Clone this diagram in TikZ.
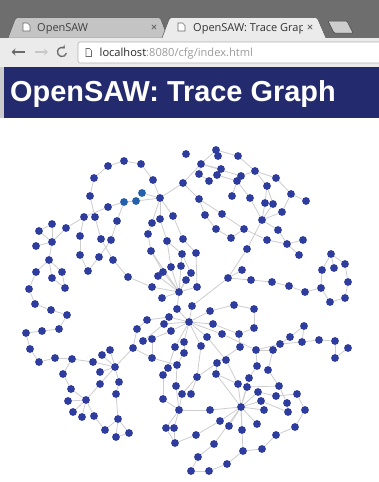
\documentclass[tikz,border=0pt]{standalone}
\usepackage{fontspec}
\setmainfont{Liberation Sans}
\newfontfamily\tabfont{Open Sans}
\usetikzlibrary{backgrounds,arrows.meta}
\definecolor{navy}{HTML}{232B6E}
\definecolor{vblue}{HTML}{2E3C9E}
\definecolor{vlight}{HTML}{2460AC}
\definecolor{egray}{HTML}{CDCDCD}
\definecolor{strip}{HTML}{6E6E6E}
\definecolor{tabgray}{HTML}{C4C4C4}
\definecolor{barcol}{HTML}{EBEBEB}
\definecolor{urlgray}{HTML}{9A9A9A}
\definecolor{icongray}{HTML}{6A6A6A}
\tikzset{
  vtx/.style={circle,fill=vblue,draw=none,inner sep=0pt,minimum size=7.8pt},
  vtxl/.style={vtx,fill=vlight},
  edge/.style={draw=egray,line width=0.8pt},
  pageicon/.style={draw=icongray,line width=0.6pt,fill=white},
  closex/.style={draw=icongray,line width=0.8pt}
}
\begin{document}
\begin{tikzpicture}[x=1pt,y=-1pt]
\useasboundingbox (0,0) rectangle (379,482);
\begin{pgfonlayer}{background}
\fill[white] (0,0) rectangle (379,482);
\end{pgfonlayer}
% ---------- browser chrome ----------
\fill[strip] (0,0) rectangle (379,38);
\filldraw[fill=tabgray,draw=strip!80!black,line width=0.5pt] (8,38) -- (15,19.5) -- (17,17.5) -- (159,17.5) -- (161,19.5) -- (168,38) -- cycle;
\fill[barcol] (0,37.5) rectangle (379,67);
\filldraw[fill=barcol,draw=strip!80!black,line width=0.5pt] (162,38) -- (169,19.5) -- (171,17.5) -- (316,17.5) -- (318,19.5) -- (326,38);
\fill[barcol] (162.6,37) rectangle (325.4,39);
\filldraw[fill=tabgray!85!white,draw=strip!60!black,line width=0.5pt,rounded corners=1pt] (328,21) -- (347,21) -- (353,33) -- (334,33) -- cycle;
\draw[pageicon] (23,23) -- (27.5,23) -- (30,25.5) -- (30,31) -- (23,31) -- cycle;
\draw[pageicon] (178,23) -- (182.5,23) -- (185,25.5) -- (185,31) -- (178,31) -- cycle;
\node[anchor=base west,inner sep=0pt,font=\tabfont\fontsize{11}{12}\selectfont,text=black!75] (tabone) at (37,31) {OpenSAW};
\begin{scope}
\clip (190,18) rectangle (302,37);
\node[anchor=base west,inner sep=0pt,font=\tabfont\fontsize{11}{12}\selectfont,text=black!80] (tabtwo) at (193,31) {OpenSAW: Trace Graph};
\end{scope}
\draw[closex] (151.8,24.8) -- (156.2,29.2) (151.8,29.2) -- (156.2,24.8);
\draw[closex] (307.8,24.8) -- (312.2,29.2) (307.8,29.2) -- (312.2,24.8);
\draw[icongray,line width=1.3pt,-{Stealth[length=4pt,width=7pt]}] (25,52) -- (11.5,52);
\draw[black!22,line width=1.3pt,-{Stealth[length=4pt,width=7pt]}] (35,52) -- (48,52);
\draw[icongray,line width=1.3pt,-{Stealth[length=3pt,width=5pt]}] (62,52) ++(15:4.6) arc (15:310:4.6);
\filldraw[fill=white,draw=black!30,line width=0.6pt,rounded corners=2pt] (78,42) rectangle (390,63);
\draw[pageicon] (86,48.5) -- (89.5,48.5) -- (91.5,50.5) -- (91.5,56.5) -- (86,56.5) -- cycle;
\node[anchor=base west,inner sep=0pt,font=\tabfont\fontsize{11.1}{12}\selectfont] (url) at (99.5,56.5) {\textcolor{black!85}{localhost}\textcolor{urlgray}{:8080/cfg/index.html}};
\draw[black!35,line width=0.5pt] (0,67) -- (379,67);
\fill[black!20] (0,67) rectangle (4,117.5);
\fill[navy] (4,67.3) rectangle (379,117.5);
\node[anchor=base west,inner sep=0pt,font=\bfseries\fontsize{28.9}{30}\selectfont,text=white] (title) at (10,101.8) {OpenSAW: Trace Graph};
% ---------- graph nodes ----------
\foreach \n/\x/\y in {a1/124/161, a2/108/166, a3/94/178, a4/90/196, a5/141/164, a6/153/180, a7/160/198, a11/108/207, a12/84/217, a13/95/217, a14/117/221, a15/66/228, a16/52/224, a17/39/231, a18/52/242, a19/36/246, a20/80/236, a21/101/239, a22/111/240, a23/80/255, a24/99/257, a25/88/271, a26/113/260, a27/49/260, a28/36/272, a29/52/278, a30/62/272, a31/65/288, a32/29/289, a33/128/277, a34/35/304, a35/51/310, a36/67/315, a37/59/329, a38/42/331, a39/26/333, a40/30/349, a41/39/362, a42/55/358, a43/72/359, a44/93/362, a45/102/355, a46/110/350, a47/115/367, a48/100/372, a49/100/384, a50/119/382, a51/116/394, a52/63/374, a53/71/389, a54/86/400, a55/68/401, a56/73/412, a57/82/417, a58/94/416, a59/105/430, a60/118/419, a61/116/437, a62/129/433}
  \node[vtx] (\n) at (\x,\y) {};
\foreach \n/\x/\y in {a8/142/193, a9/136/201, a10/124/202}
  \node[vtxl] (\n) at (\x,\y) {};
\foreach \n/\x/\y in {b1/186/154, b2/183/183, b3/173/216, b4/160/219, b5/152/223, b6/148/234, b7/167/241, b8/183/239, b9/151/251, b10/182/254, b11/196/253, b12/171/267, b13/181/266, b14/163/272, b15/158/276, b16/191/273, b17/186/280, b18/152/287, b19/179/292, b20/197/287, b21/162/298, b22/192/306, b23/177/309, b24/210/311, b25/234/305, b26/254/309}
  \node[vtx] (\n) at (\x,\y) {};
\foreach \n/\x/\y in {c1/216/150, c2/218/156, c3/238/156, c4/201/164, c5/221/169, c6/217/175, c7/199/174, c8/209/181, c9/241/176, c10/237/181, c11/255/171, c12/276/178, c13/267/186, c14/291/194, c15/306/201, c16/232/196, c17/250/198, c18/199/199, c19/265/203, c20/273/204, c21/282/212, c22/262/220, c23/205/215, c24/222/214, c25/216/229, c26/244/229, c27/231/238, c28/278/230, c29/267/240, c30/287/244, c31/303/240, c32/299/255, c33/247/249, c34/242/270, c35/228/278, c36/251/280, c37/272/282, c38/289/286, c39/305/292, c40/321/288, c41/322/270, c42/331/254, c43/334/268, c44/345/264, c45/348/282, c46/345/298, c47/330/302}
  \node[vtx] (\n) at (\x,\y) {};
\foreach \n/\x/\y in {d1/147/320, d2/169/317, d3/164/324, d4/189/322, d5/137/329, d6/171/331, d7/213/324, d8/207/337, d9/222/334, d10/239/334, d11/254/328, d12/143/341, d13/152/339, d14/184/342, d15/175/347, d16/201/346, d17/240/347, d18/133/348, d19/184/353, d20/152/358, d21/226/360, d22/217/363, d23/177/365, d24/168/368, d25/163/375, d26/197/377, d27/216/374, d28/176/386, d29/238/384, d30/247/387, d31/182/394, d32/191/394, d33/163/399, d34/179/410, d35/210/410, d36/241/407, d37/220/421, d38/229/426, d39/242/430, d40/166/428, d41/174/428, d42/196/435, d43/214/444, d44/175/443, d45/243/451, d46/198/457, d47/227/464, d48/191/471, d49/209/471}
  \node[vtx] (\n) at (\x,\y) {};
\foreach \n/\x/\y in {e1/256/350, e2/273/350, e3/280/344, e4/290/337, e5/304/326, e6/302/342, e7/319/340, e8/335/341, e9/348/348, e10/335/358, e11/257/366, e12/268/370, e13/249/378, e14/279/386, e15/258/392, e16/276/396, e17/297/394, e18/261/401, e19/287/403, e20/264/410, e21/288/412, e22/305/410, e23/257/424, e24/295/427, e25/276/435, e26/262/449}
  \node[vtx] (\n) at (\x,\y) {};
% ---------- graph edges ----------
\begin{pgfonlayer}{background}
\foreach \a/\b in {a1/a2, a1/a5, a5/a6, a6/a7, a2/a3, a3/a4, a4/a13, a13/a21, a21/a26, a26/a33, a33/b18, b18/b19,
 a12/a11, a11/a10, a10/a9, a9/a7, a8/a7, a10/a14, a14/a22, a22/a24, a24/a25, a25/a23, a23/a20, a20/a12, a12/a15, a15/a18, a16/a17, a16/a18, a17/a18, a18/a19, a18/a27, a27/a28, a27/a29, a27/a30, a30/a31, a29/a31, a28/a32, a32/a34, a34/a35, a35/a36, a36/a37, a37/a38, a38/a39, a39/a40, a40/a41, a41/a42, a42/a43, a43/a44, a44/a47, a43/a52, a52/a53, a53/a54, a54/a55, a54/a56, a54/a57, a54/a58, a54/a49, a49/a47, a48/a47, a45/a47, a46/a47, a47/a50, a50/a51, a51/a60, a60/a61, a60/a62, a61/a62, a58/a59, a59/a60, a47/d18}
  \draw[edge] (\a) -- (\b);
\foreach \a/\b in {a7/b2, a7/b3, a7/b4, a7/b5, b5/b6, b6/b9, b9/b19, b4/b7, b7/b10, b3/b8, b8/b11, b10/b13, b10/b16, b7/b12, b11/b20, b20/b19, b12/b19, b13/b19, b14/b19, b15/b19, b17/b19, b16/b19, b21/b19, b19/b23, b23/d4, b22/d4, b24/d4, c35/b22, b9/b14}
  \draw[edge] (\a) -- (\b);
\foreach \a/\b in {b2/c4, b2/c18, c4/c1, c4/c5, c4/c7, c4/c9, c1/c2, c1/c3, c3/c11, c5/c6, c7/c8, c6/c10, c9/c10, c9/c11, c10/c16, c10/c17, c11/c12, c11/c13, c12/c14, c14/c15, c14/c21, c21/c22, c13/c19, c13/c20, c19/c22, c20/c22, c17/c22, c22/c28, c28/c30, c30/c31, c30/c32, c29/c30, c26/c29, c22/c33, c33/c35, c34/c35, c35/c36, c36/c37, c37/c38, c38/c39, c39/c40, c40/c41, c41/c42, c42/c44, c42/c43, c44/c45, c45/c46, c46/c47, c47/c40, c18/c23, c18/c24, c23/c25, c25/c27, c27/c26, c24/c26}
  \draw[edge] (\a) -- (\b);
\foreach \a/\b in {d4/d2, d4/d3, d4/d6, d4/d7, d4/d8, d4/d9, d4/d14, d4/d15, d4/d16, d9/e1, d7/d10, d10/d11, d11/b26, b26/b25, b25/b24, d10/d17, d17/d22, d22/d26, d22/d27, d27/d29, d29/d36, d30/d36, d26/d31, d26/d32, d16/d26, d8/d21, d21/d29, d1/d2, d5/d1, d5/d18, d18/d20, d12/d13, d13/d20, d3/d12, d13/d6, d20/d23, d19/d23, d14/d19, d23/d28, d15/d24, d24/d25, d25/d33, d33/d34, d28/d34, d31/d34, d34/d35, d35/d36, d34/d40, d34/d41, d40/d44, d41/d44, d44/d42, d42/d37, d37/d36, d36/d38, d36/d39, d36/d43, d36/d45, d43/d46, d46/d48, d48/d49, d49/d47, d47/d45, d36/e23, d36/e15, d36/e18, d36/e20, d36/e13, d27/d36}
  \draw[edge] (\a) -- (\b);
\foreach \a/\b in {e1/e3, e3/e4, e4/e5, e5/e6, e3/e6, e6/e7, e7/e8, e8/e10, e10/e9, e1/e2, e1/e11, e11/e13, e2/e12, e12/e14, e14/e19, e15/e16, e16/e17, e17/e22, e22/e24, e24/e25, e25/e26, e26/d45, e19/e21, e18/e21, d30/e14}
  \draw[edge] (\a) -- (\b);
\end{pgfonlayer}
\end{tikzpicture}
\end{document}
